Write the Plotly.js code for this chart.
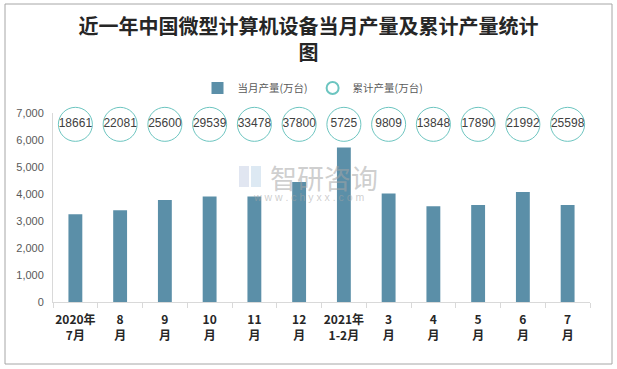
<!DOCTYPE html>
<html>
<head>
<meta charset="utf-8">
<script src="https://cdn.plot.ly/plotly-3.0.1.min.js"></script>
<style>
html,body{margin:0;padding:0;background:#fff;}
#chart{width:617px;height:369px;}
</style>
</head>
<body>
<div id="chart"></div>
<script>
// Data
const categories = ['2020年<br>7月','8<br>月','9<br>月','10<br>月','11<br>月','12<br>月','2021年<br>1-2月','3<br>月','4<br>月','5<br>月','6<br>月','7<br>月'];
const monthlyOutput = [3250, 3400, 3780, 3910, 3910, 4440, 5725, 4020, 3550, 3590, 4070, 3590];
const cumulativeOutput = [18661, 22081, 25600, 29539, 33478, 37800, 5725, 9809, 13848, 17890, 21992, 25598];
const yTicks = [0, 1000, 2000, 3000, 4000, 5000, 6000, 7000];

const FONT = 'Noto Sans CJK SC, Noto Sans, sans-serif';
const circleRow = 6580; // vertical placement of cumulative labels

const traces = [
  {
    type: 'bar',
    name: '当月产量(万台)',
    x: categories,
    y: monthlyOutput,
    width: 0.31,
    marker: {color: '#5b8fa8', line: {width: 0}},
    hoverinfo: 'x+y'
  },
  {
    type: 'scatter',
    mode: 'markers+text',
    name: '累计产量(万台)',
    x: categories,
    y: cumulativeOutput.map(() => circleRow),
    text: cumulativeOutput.map(String),
    textposition: 'middle center',
    textfont: {family: 'Liberation Sans, Arial, sans-serif', size: 12, color: '#404040'},
    marker: {symbol: 'circle', size: 34, color: 'rgba(255,255,255,0)', line: {color: '#6cc5c0', width: 1}},
    cliponaxis: false,
    hoverinfo: 'text'
  }
];

const px = (x) => (x - 53) / 537;   // pixel -> paper x
const py = (y) => (302 - y) / 189;  // pixel -> paper y

const layout = {
  width: 617,
  height: 369,
  paper_bgcolor: '#ffffff',
  plot_bgcolor: '#ffffff',
  margin: {l: 53, r: 27, t: 113, b: 67},
  font: {family: FONT, color: '#595959'},
  title: {
    text: '近一年中国微型计算机设备当月产量及累计产量统计<br>图',
    font: {family: FONT, size: 20, color: '#262626', weight: 'bold'},
    x: 0.5, xanchor: 'center',
    xref: 'container',
    y: 0.908, yref: 'container', yanchor: 'top'
  },
  showlegend: true,
  legend: {
    orientation: 'h',
    x: px(313), xanchor: 'center',
    y: py(88), yanchor: 'middle',
    font: {family: FONT, size: 10.5, color: '#595959'},
    itemsizing: 'constant',
    itemwidth: 30,
    tracegroupgap: 0,
    bgcolor: 'rgba(0,0,0,0)'
  },
  xaxis: {
    type: 'category',
    range: [-0.5, 11.5],
    showline: true,
    linecolor: '#d9d9d9',
    linewidth: 1,
    ticks: 'outside',
    tickson: 'boundaries',
    ticklen: 5,
    tickcolor: '#d9d9d9',
    tickangle: 0,
    ticklabelstandoff: 7,
    tickfont: {family: FONT, size: 12, color: '#262626', weight: 'bold'},
    showgrid: false,
    zeroline: false,
    fixedrange: true
  },
  yaxis: {
    range: [0, 7000],
    tickvals: yTicks,
    tickformat: ',d',
    showline: true,
    linecolor: '#d9d9d9',
    linewidth: 1,
    ticks: '',
    showgrid: false,
    zeroline: false,
    tickfont: {family: 'Liberation Sans, Arial, sans-serif', size: 11, color: '#595959'},
    ticklabelstandoff: 6,
    fixedrange: true
  },
  shapes: [
    {type: 'rect', xref: 'paper', yref: 'paper',
     x0: -48/537, x1: 1 + 22/537, y0: -62/189, y1: 1 + 109/189,
     line: {color: '#a6a6a6', width: 1}, fillcolor: 'rgba(0,0,0,0)', layer: 'below'},
    // faint watermark logo blocks
    {type: 'rect', xref: 'paper', yref: 'paper', x0: px(239), x1: px(249), y0: py(187), y1: py(166),
     line: {width: 0}, fillcolor: 'rgba(180,192,220,0.4)', layer: 'below'},
    {type: 'rect', xref: 'paper', yref: 'paper', x0: px(251), x1: px(261), y0: py(187), y1: py(166),
     line: {width: 0}, fillcolor: 'rgba(170,200,225,0.4)', layer: 'below'}
  ],
  annotations: [
    {text: '智研咨询', xref: 'paper', yref: 'paper', x: px(324), y: py(177),
     showarrow: false, font: {family: FONT, size: 27, color: 'rgba(165,165,165,0.55)'}},
    {text: 'w w w . c h y x x . c o m', xref: 'paper', yref: 'paper', x: px(309), y: py(197),
     showarrow: false, font: {family: 'Liberation Sans, Arial, sans-serif', size: 10.5, color: 'rgba(165,165,165,0.55)'}}
  ],
  bargap: 0.69
};

Plotly.newPlot('chart', traces, layout, {displayModeBar: false, staticPlot: true});
</script>
</body>
</html>
